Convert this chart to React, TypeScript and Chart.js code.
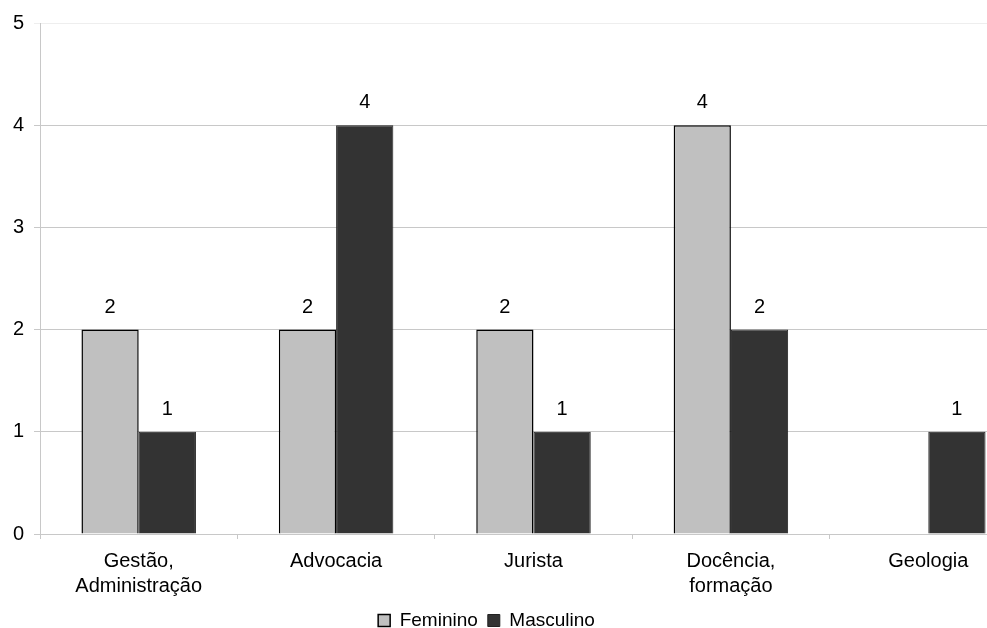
import React, { useEffect, useRef } from "react";
import { Chart, registerables } from "chart.js";

Chart.register(...registerables);

const categories: string[][] = [
  ["Gestão,", "Administração"],
  ["Advocacia"],
  ["Jurista"],
  ["Docência,", "formação"],
  ["Geologia"],
];
const feminino: (number | null)[] = [2, 2, 2, 4, null];
const masculino: (number | null)[] = [1, 4, 1, 2, 1];
const yTicks: number[] = [0, 1, 2, 3, 4, 5];

const FONT = "'Liberation Sans', Arial, sans-serif";
const CANVAS_W = 1027;
const CANVAS_H = 628;
const LEGEND_SHIFT_X = 27;
const LEGEND_SHIFT_Y = -3;

const valueLabels = {
  id: "valueLabels",
  afterDatasetsDraw(chart: any) {
    const ctx = chart.ctx;
    ctx.save();
    ctx.font = `20px ${FONT}`;
    ctx.fillStyle = "#000";
    ctx.textAlign = "center";
    ctx.textBaseline = "alphabetic";
    chart.data.datasets.forEach((ds: any, di: number) => {
      const meta = chart.getDatasetMeta(di);
      meta.data.forEach((bar: any, i: number) => {
        const v = ds.data[i];
        if (v === null || v === undefined) return;
        ctx.fillText(String(v), bar.x, bar.y - 17);
      });
    });
    ctx.restore();
  },
};

const legendShift = {
  id: "legendShift",
  afterLayout(chart: any) {
    const lg = chart.legend;
    if (lg) {
      lg.left -= LEGEND_SHIFT_X;
      lg.right -= LEGEND_SHIFT_X;
      lg.top += LEGEND_SHIFT_Y;
      lg.bottom += LEGEND_SHIFT_Y;
    }
  },
};

export default function App() {
  const ref = useRef<HTMLCanvasElement | null>(null);

  useEffect(() => {
    if (!ref.current) return;
    const chart = new Chart(ref.current, {
      type: "bar",
      data: {
        labels: categories as any,
        datasets: [
          {
            label: "Feminino",
            data: feminino,
            backgroundColor: "#c0c0c0",
            borderColor: "#000000",
            borderWidth: 1.5,
            categoryPercentage: 0.58,
            barPercentage: 1.0,
          },
          {
            label: "Masculino",
            data: masculino,
            backgroundColor: "#333333",
            borderColor: "#222222",
            borderWidth: 1,
            categoryPercentage: 0.58,
            barPercentage: 1.0,
          },
        ],
      },
      options: {
        responsive: false,
        animation: false,
        devicePixelRatio: 1,
        layout: { padding: { top: 23, left: 0, right: 0, bottom: -15 } },
        plugins: {
          tooltip: { enabled: false },
          legend: {
            position: "bottom",
            align: "center",
            labels: {
              font: { family: FONT, size: 19 },
              color: "#000",
              boxWidth: 12,
              boxHeight: 12,
              padding: 10,
            },
          },
        },
        scales: {
          x: {
            grid: {
              drawOnChartArea: false,
              drawTicks: true,
              tickLength: 5,
              color: "#c8c8c8",
            },
            border: { color: "#c8c8c8" },
            ticks: {
              font: { family: FONT, size: 20, lineHeight: 1.25 },
              color: "#000",
              padding: 10,
              maxRotation: 0,
              autoSkip: false,
            },
            afterFit(scale: any) {
              scale.height = 70;
            },
          },
          y: {
            min: 0,
            max: 5,
            afterBuildTicks(scale: any) {
              scale.ticks = yTicks.map((v) => ({ value: v }));
            },
            grid: {
              color: (c: any) => (c.tick && c.tick.value === 5 ? "#eeeeee" : "#c8c8c8"),
              tickLength: 6,
            },
            border: { color: "#c8c8c8" },
            ticks: {
              font: { family: FONT, size: 20 },
              color: "#000",
              padding: 10,
            },
            afterFit(scale: any) {
              scale.width = 40;
            },
          },
        },
      },
      plugins: [valueLabels, legendShift],
    });
    return () => chart.destroy();
  }, []);

  return (
    <div
      style={{
        position: "fixed",
        left: 0,
        top: 0,
        width: 987,
        height: 628,
        overflow: "hidden",
        background: "#fff",
      }}
    >
      <canvas
        ref={ref}
        width={CANVAS_W}
        height={CANVAS_H}
        style={{ display: "block", width: CANVAS_W, height: CANVAS_H }}
      />
    </div>
  );
}
